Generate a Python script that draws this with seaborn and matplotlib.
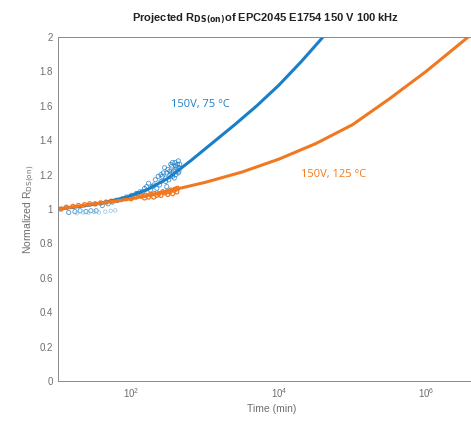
import numpy as np
import pandas as pd
import seaborn as sns
import matplotlib.pyplot as plt
from matplotlib.ticker import FixedLocator, NullFormatter

# fitted projection curves (time in minutes, normalized Rds(on))
fit75_t = [10, 20, 39.8, 79.4, 158.5, 316, 631, 1259, 2512, 5012, 10000, 19950, 39810, 50120]
fit75_r = [1.0, 1.015, 1.035, 1.065, 1.11, 1.18, 1.28, 1.385, 1.49, 1.60, 1.72, 1.855, 2.0, 2.05]
fit125_t = [10, 31.6, 100, 316, 1000, 3162, 10000, 31620, 100000, 316200, 1000000, 3162000, 6310000]
fit125_r = [1.0, 1.03, 1.06, 1.105, 1.155, 1.215, 1.29, 1.38, 1.49, 1.64, 1.80, 1.975, 2.08]

# measured points
meas75_t = [14, 17, 20, 24, 28, 33, 40, 48, 55, 65, 75, 85, 100, 115, 130, 150, 170, 190, 210, 230,
            250, 270, 290, 310, 330, 350, 370, 390, 410, 430, 450, 240, 280, 320, 360, 400, 440, 300, 340, 380,
            180, 200, 220, 260, 300, 330, 360, 390, 420, 440, 160, 140, 120, 250, 290, 350, 400, 430]
meas75_r = [0.98, 0.985, 0.99, 0.985, 0.99, 0.99, 1.02, 1.03, 1.04, 1.05, 1.06, 1.07, 1.08, 1.09, 1.10, 1.12,
            1.15, 1.13, 1.17, 1.19, 1.16, 1.21, 1.18, 1.23, 1.20, 1.25, 1.22, 1.27, 1.24, 1.28, 1.26, 1.14,
            1.24, 1.17, 1.27, 1.20, 1.22, 1.13, 1.26, 1.18,
            1.11, 1.14, 1.12, 1.19, 1.21, 1.22, 1.19, 1.23, 1.26, 1.24, 1.13, 1.10, 1.09, 1.20, 1.16, 1.21, 1.25, 1.21]
meas125_t = [11, 13, 16, 19, 23, 27, 32, 38, 45, 53, 62, 72, 84, 98, 115, 135, 155, 180, 205, 235,
             265, 300, 340, 380, 420, 200, 250, 310, 360, 410, 150, 170, 220, 280, 330, 390]
meas125_r = [1.00, 1.01, 1.015, 1.02, 1.025, 1.03, 1.03, 1.035, 1.04, 1.045, 1.05, 1.055, 1.06, 1.06, 1.07,
             1.075, 1.08, 1.085, 1.09, 1.09, 1.10, 1.10, 1.11, 1.11, 1.12, 1.07, 1.08, 1.085, 1.09, 1.10,
             1.065, 1.07, 1.08, 1.095, 1.10, 1.115]
low75_t = [18, 22, 26, 31, 36, 44, 52, 60]
low75_r = [0.975, 0.98, 0.978, 0.983, 0.98, 0.985, 0.99, 0.992]

blue = '#1A7FC8'
orange = '#F07820'
gray = '#6E6E6E'

sns.set_style('white')
plt.rcParams['font.family'] = ['Liberation Sans', 'DejaVu Sans']

fig = plt.figure(figsize=(4.71, 4.26), dpi=100)
ax = fig.add_axes([0.1231, 0.1056, 0.9066, 0.8075])

sns.scatterplot(x=meas75_t, y=meas75_r, ax=ax, marker='o', s=9, facecolors='none',
                edgecolor=blue, linewidth=0.6, alpha=0.8, legend=False)
sns.scatterplot(x=low75_t, y=low75_r, ax=ax, marker='o', s=6, facecolors='none',
                edgecolor='#8DBFE3', linewidth=0.5, legend=False)
sns.scatterplot(x=meas125_t, y=meas125_r, ax=ax, marker='o', s=9, facecolors='none',
                edgecolor=orange, linewidth=0.9, legend=False)
sns.lineplot(x=fit75_t, y=fit75_r, ax=ax, color=blue, linewidth=2.2, sort=False)
sns.lineplot(x=fit125_t, y=fit125_r, ax=ax, color=orange, linewidth=2.2, sort=False)

ax.set_xscale('log')
ax.set_xlim(10, 10**6.8)
ax.set_ylim(0, 2)
ax.xaxis.set_major_locator(FixedLocator([1e2, 1e4, 1e6]))
ax.xaxis.set_minor_locator(FixedLocator([1e1, 1e3, 1e5]))
ax.xaxis.set_minor_formatter(NullFormatter())
ax.set_yticks(np.arange(0, 2.01, 0.2))
ax.set_yticklabels(['0', '0.2', '0.4', '0.6', '0.8', '1', '1.2', '1.4', '1.6', '1.8', '2'])
ax.tick_params(axis='both', which='both', direction='in', colors=gray, labelsize=7,
               length=3, width=0.6)
for sp in ax.spines.values():
    sp.set_color('#8A8A8A')
    sp.set_linewidth(0.7)

ax.set_xlabel('Time (min)', fontsize=7.5, color=gray, labelpad=3)
ax.set_ylabel(r'Normalized R$_{\mathrm{DS(on)}}$', fontsize=7.5, color=gray, labelpad=2)

ax.text(870, 1.61, '150V, 75 \u00b0C', color=blue, fontsize=8, ha='center', va='center',
        family=['Open Sans', 'DejaVu Sans'])
ax.text(55000, 1.20, '150V, 125 \u00b0C', color=orange, fontsize=8, ha='center', va='center',
        family=['Open Sans', 'DejaVu Sans'])

fig.text(0.563, 0.957, r'Projected R$_{\mathbf{DS(on)}}$of EPC2045 E1754 150 V 100 kHz',
         ha='center', va='center', fontsize=8, fontweight='bold', color='#222222')

fig.savefig('out.png', dpi=100)
